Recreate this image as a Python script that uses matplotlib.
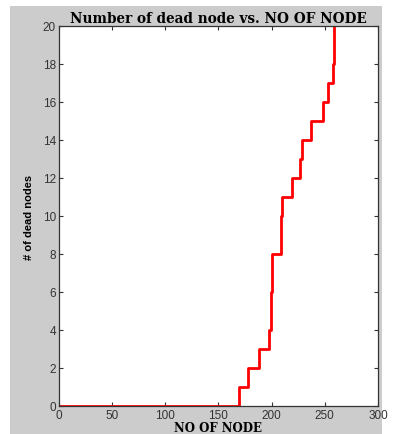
import matplotlib
matplotlib.use("Agg")
import matplotlib.pyplot as plt
from matplotlib.patches import Rectangle

# Data
node_count = [0, 169, 178, 188, 198, 199, 200, 209, 210, 219, 227, 229, 237, 248, 253, 258, 259]
dead_nodes = [0, 1, 2, 3, 4, 6, 8, 10, 11, 12, 13, 14, 15, 16, 17, 18, 20]
x_ticks = [0, 50, 100, 150, 200, 250, 300]
y_ticks = [0, 2, 4, 6, 8, 10, 12, 14, 16, 18, 20]

fig = plt.figure(figsize=(3.97, 4.35), dpi=100, facecolor="white")
bg = Rectangle((10/397, 0), 372/397, (435-7)/435, transform=fig.transFigure,
               facecolor="#cccccc", edgecolor="none", zorder=-10)
fig.add_artist(bg)
ax = fig.add_axes([58.7/397, 28/435, (378-58.7)/397, (407-27)/435])
ax.set_zorder(1)
ax.set_facecolor("white")
ax.step(node_count, dead_nodes, where="post", color="red", linewidth=2.0, clip_on=True)
ax.set_xlim(0, 300)
ax.set_ylim(0, 20)
ax.set_xticks(x_ticks)
ax.set_yticks(y_ticks)
ax.tick_params(direction="in", top=True, right=True, length=3, width=0.8,
               labelsize=8.5, colors="#333333", pad=2)
for lab in ax.get_xticklabels() + ax.get_yticklabels():
    lab.set_family("Liberation Sans")
for sp in ax.spines.values():
    sp.set_color("#333333")
    sp.set_linewidth(0.9)
ax.set_title("Number of dead node vs. NO OF NODE", fontfamily="DejaVu Serif",
             fontweight="bold", fontsize=9.8, pad=3)
ax.set_xlabel("NO OF NODE", fontfamily="DejaVu Serif", fontweight="bold",
              fontsize=8.5, labelpad=0)
ax.set_ylabel("# of dead nodes", fontfamily="Liberation Sans", fontsize=8,
              fontweight="bold", labelpad=6)
fig.savefig("out.png", dpi=100, facecolor="white")
